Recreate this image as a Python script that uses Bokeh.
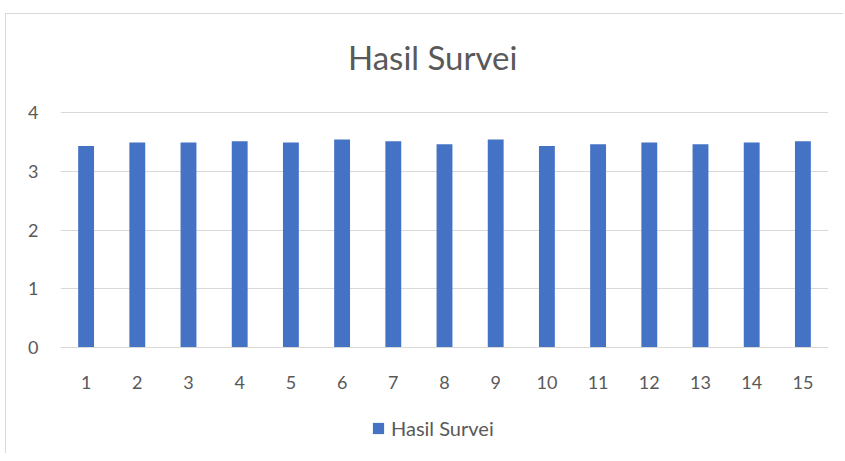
from bokeh.plotting import figure
from bokeh.models import Legend, LegendItem, FixedTicker, ColumnDataSource, Label
from bokeh.embed import file_html
from bokeh.resources import INLINE

categories = [str(i) for i in range(1, 16)]
values = [3.43, 3.49, 3.49, 3.51, 3.49, 3.54, 3.51, 3.46, 3.54, 3.43, 3.46, 3.49, 3.46, 3.49, 3.51]
series_name = "Hasil Survei"
title_text = "Hasil Survei"
y_ticks = [0, 1, 2, 3, 4]

FONT = "Lato"
TXT = "#595959"
GRID = "#d9d9d9"
BAR = "#4472C4"

W, H = 838, 440
p = figure(x_range=categories, y_range=(-1.821, 5.668), width=W, height=H,
           output_backend="svg", toolbar_location=None,
           min_border_left=54, min_border_right=16, min_border_top=0, min_border_bottom=0)
p.styles = {"margin-left": "5px", "margin-top": "13px",
            "border-left": f"1px solid {GRID}", "border-top": f"1px solid {GRID}"}
p.outline_line_color = None

src = ColumnDataSource(dict(x=categories, y=values))
r = p.vbar(x="x", top="y", width=0.31, source=src, fill_color=BAR, line_color=None)

p.xgrid.grid_line_color = None
p.ygrid.grid_line_color = GRID
p.ygrid.grid_line_width = 1
p.ygrid.ticker = FixedTicker(ticks=y_ticks)
p.yaxis.ticker = FixedTicker(ticks=y_ticks)
p.yaxis.axis_line_color = None
p.yaxis.major_tick_line_color = None
p.yaxis.minor_tick_line_color = None
p.yaxis.major_label_standoff = 16
p.xaxis.fixed_location = 0
p.xaxis.axis_line_color = GRID
p.xaxis.major_tick_line_color = None
p.xaxis.minor_tick_line_color = None
p.xaxis.major_label_standoff = 22
for ax in (p.xaxis, p.yaxis):
    ax.major_label_text_font = FONT
    ax.major_label_text_font_size = "18px"
    ax.major_label_text_color = TXT

p.add_layout(Label(x=7.27, y=4.95, text=title_text, text_align="center", text_baseline="middle",
                   text_font=FONT, text_font_size="33px", text_color=TXT))

legend = Legend(items=[LegendItem(label=series_name, renderers=[r])], orientation="horizontal",
                location=(311, 14), border_line_color=None, background_fill_alpha=0,
                label_text_font=FONT, label_text_font_size="20px", label_text_color=TXT,
                glyph_width=14, glyph_height=14, label_standoff=6, margin=0, padding=0)
p.add_layout(legend, "center")

open("out.html", "w").write(file_html(p, INLINE))
